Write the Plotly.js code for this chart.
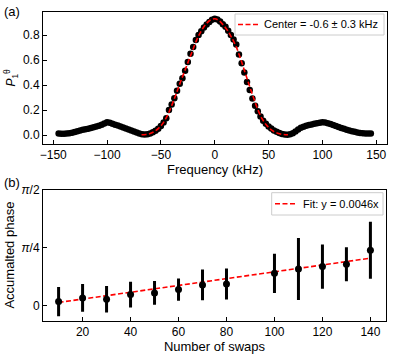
<!DOCTYPE html>
<html>
<head>
<meta charset="utf-8">
<script src="https://cdn.plot.ly/plotly-3.0.1.min.js"></script>
<style>html,body{margin:0;padding:0;background:#fff;}#chart{width:396px;height:359px;}</style>
</head>
<body>
<div id="chart"></div>
<script>
// ---- Panel (a): spectrum data ----
const freq = [-145,-142.5,-140,-137.5,-135,-132.5,-130,-127.5,-125,-122.5,-120,-117.5,-115,-112.5,-110,-107.5,-105,-102.5,-100,-97.5,-95,-92.5,-90,-87.5,-85,-82.5,-80,-77.5,-75,-72.5,-70,-67.5,-65,-62.5,-60,-57.5,-55,-52.5,-50,-47.5,-45,-42.5,-40,-37.5,-35,-32.5,-30,-27.5,-25,-22.5,-20,-17.5,-15,-12.5,-10,-7.5,-5,-2.5,0,2.5,5,7.5,10,12.5,15,17.5,20,22.5,25,27.5,30,32.5,35,37.5,40,42.5,45,47.5,50,52.5,55,57.5,60,62.5,65,67.5,70,72.5,75,77.5,80,82.5,85,87.5,90,92.5,95,97.5,100,102.5,105,107.5,110,112.5,115,117.5,120,122.5,125,127.5,130,132.5,135,137.5,140,142.5,145];
const prob = [0.012,0.010,0.010,0.012,0.015,0.019,0.024,0.030,0.036,0.042,0.047,0.051,0.056,0.062,0.068,0.075,0.083,0.092,0.103,0.098,0.091,0.083,0.076,0.068,0.060,0.052,0.044,0.036,0.028,0.020,0.012,0.006,0.004,0.006,0.012,0.022,0.034,0.050,0.072,0.100,0.135,0.200,0.245,0.295,0.355,0.410,0.455,0.515,0.585,0.650,0.705,0.760,0.800,0.830,0.860,0.885,0.905,0.922,0.930,0.925,0.908,0.887,0.866,0.835,0.800,0.765,0.725,0.645,0.575,0.500,0.425,0.360,0.292,0.235,0.190,0.148,0.115,0.090,0.068,0.052,0.037,0.026,0.016,0.009,0.004,0.002,0.006,0.014,0.028,0.044,0.058,0.066,0.074,0.080,0.085,0.090,0.095,0.099,0.103,0.100,0.095,0.088,0.080,0.072,0.064,0.057,0.050,0.043,0.037,0.031,0.026,0.021,0.017,0.014,0.012,0.012,0.013];
const fitFreq = [-68,-64,-60,-56,-52,-48,-44,-40,-36,-32,-28,-24,-20,-16,-12,-8,-4,0,4,8,12,16,20,24,28,32,36,40,44,48,52,56,60,64,68];
const fitProb = [0.002,0.004,0.012,0.028,0.055,0.095,0.155,0.235,0.325,0.420,0.510,0.600,0.690,0.775,0.840,0.890,0.920,0.930,0.915,0.880,0.835,0.775,0.705,0.610,0.505,0.400,0.300,0.205,0.130,0.080,0.045,0.022,0.010,0.004,0.002];
const legendA = "Center = -0.6 ± 0.3 kHz";
const freqTicks = [-150,-100,-50,0,50,100,150];
const probTicks = [0,0.2,0.4,0.6,0.8];

// ---- Panel (b): accumulated phase ----
const swaps = [10,20,30,40,50,60,70,80,100,110,120,130,140];
const phase = [0.058,0.108,0.090,0.152,0.175,0.220,0.283,0.296,0.440,0.498,0.530,0.562,0.750];
const phaseErr = [0.198,0.186,0.178,0.173,0.160,0.150,0.207,0.210,0.265,0.418,0.300,0.229,0.384];
const fitSwaps = [10,140];
const fitPhase = [0.046,0.644];
const legendB = "Fit: y = 0.0046x";
const swapTicks = [20,40,60,80,100,120,140];
const phaseTickVals = [0, Math.PI/4, Math.PI/2];
const phaseTickText = ["0","<i>π</i>/4","<i>π</i>/2"];

const W = 396, H = 359;
const px = v => v / W;
const py = v => 1 - v / H;
const FONT = "Liberation Sans, Arial, Helvetica, sans-serif";

const traces = [
  {x: freq, y: prob, type: "scatter", mode: "markers", xaxis: "x", yaxis: "y",
   marker: {color: "#000", size: 6.5}, showlegend: false, hoverinfo: "x+y"},
  {x: fitFreq, y: fitProb, type: "scatter", mode: "lines", xaxis: "x", yaxis: "y",
   line: {color: "#ff0000", width: 1.6, dash: "5px,2.5px", shape: "spline"}, name: legendA, showlegend: false},
  {x: fitSwaps, y: fitPhase, type: "scatter", mode: "lines", xaxis: "x2", yaxis: "y2",
   line: {color: "#ff0000", width: 1.6, dash: "5px,2.5px"}, name: legendB, showlegend: false},
  {x: swaps, y: phase, type: "scatter", mode: "markers", xaxis: "x2", yaxis: "y2",
   marker: {color: "#000", size: 7},
   error_y: {type: "data", array: phaseErr, visible: true, color: "#000", thickness: 3, width: 0},
   showlegend: false}
];

const titleFont = {family: FONT, size: 13, color: "#000"};
const axBase = {
  showline: true, mirror: true, linecolor: "#000", linewidth: 1,
  ticks: "inside", ticklen: 4, tickwidth: 1, tickcolor: "#000",
  showgrid: false, zeroline: false, automargin: false,
  tickfont: {family: FONT, size: 12, color: "#000"}
};

const layout = {
  width: W, height: H,
  margin: {l: 0, r: 0, t: 0, b: 0},
  paper_bgcolor: "#fff", plot_bgcolor: "#fff",
  font: {family: FONT, color: "#000"},
  showlegend: false,
  xaxis: Object.assign({}, axBase, {domain: [px(43), px(387)], range: [-159.5, 160],
    tickvals: freqTicks, anchor: "y",
    title: {text: "Frequency (kHz)", font: titleFont, standoff: 2}}),
  yaxis: Object.assign({}, axBase, {domain: [py(143.5), py(12.3)], range: [-0.068, 0.982],
    tickvals: probTicks, tickformat: ".1f", anchor: "x",
    title: {text: "<i>P</i><sub>1</sub><sup>θ</sup>", font: {family: FONT, size: 12, color: "#000"}, standoff: 4}}),
  xaxis2: Object.assign({}, axBase, {domain: [px(43), px(386)], range: [3.5, 146.5],
    tickvals: swapTicks, anchor: "y2",
    title: {text: "Number of swaps", font: titleFont, standoff: 2}}),
  yaxis2: Object.assign({}, axBase, {domain: [py(320.7), py(189.5)], range: [-0.2, Math.PI/2],
    tickvals: phaseTickVals, ticktext: phaseTickText, anchor: "x2",
    title: {text: "Accumalted phase", font: titleFont, standoff: 3}}),
  shapes: [
    {type: "rect", xref: "paper", yref: "paper", x0: px(235), x1: px(384), y0: py(35), y1: py(14),
     line: {color: "#cccccc", width: 1}, fillcolor: "rgba(255,255,255,0.8)", layer: "above"},
    {type: "line", xref: "paper", yref: "paper", x0: px(238), x1: px(258), y0: py(24.5), y1: py(24.5),
     line: {color: "#ff0000", width: 1.6, dash: "5px,2.5px"}, layer: "above"},
    {type: "rect", xref: "paper", yref: "paper", x0: px(271.7), x1: px(383), y0: py(215), y1: py(192.7),
     line: {color: "#cccccc", width: 1}, fillcolor: "rgba(255,255,255,0.8)", layer: "above"},
    {type: "line", xref: "paper", yref: "paper", x0: px(275), x1: px(295), y0: py(203.8), y1: py(203.8),
     line: {color: "#ff0000", width: 1.6, dash: "5px,2.5px"}, layer: "above"}
  ],
  annotations: [
    {text: legendA, xref: "paper", yref: "paper", x: px(262), y: py(24.5), xanchor: "left", yanchor: "middle",
     showarrow: false, font: {family: FONT, size: 11, color: "#000"}},
    {text: legendB, xref: "paper", yref: "paper", x: px(301), y: py(203.8), xanchor: "left", yanchor: "middle",
     showarrow: false, font: {family: FONT, size: 11, color: "#000"}},
    {text: "(a)", xref: "paper", yref: "paper", x: px(2), y: py(2), xanchor: "left", yanchor: "top",
     showarrow: false, font: {family: FONT, size: 13, color: "#000"}},
    {text: "(b)", xref: "paper", yref: "paper", x: px(2), y: py(173), xanchor: "left", yanchor: "top",
     showarrow: false, font: {family: FONT, size: 13, color: "#000"}}
  ]
};

Plotly.newPlot("chart", traces, layout, {staticPlot: true, displayModeBar: false});
</script>
</body>
</html>
